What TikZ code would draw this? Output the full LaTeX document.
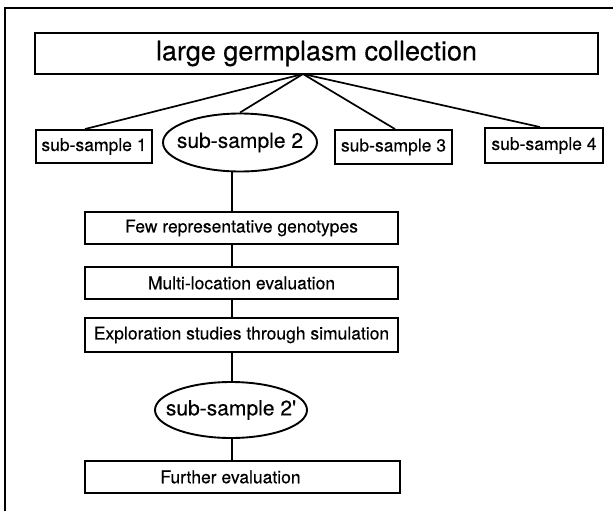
\documentclass[tikz,border=0pt]{standalone}
\usepackage{fontspec}
\setmainfont{TeX Gyre Heros}[FakeBold=0.35]
\usetikzlibrary{shapes.geometric}

\tikzset{
  boxnode/.style={draw, line width=1.9pt, rectangle, inner sep=0pt, font=\fontsize{17.5}{20}\selectfont},
  ovalnode/.style={draw, line width=1.9pt, ellipse, inner sep=0pt, font=\fontsize{21}{24}\selectfont},
  link/.style={line width=1.7pt},
  framerule/.style={line width=2.4pt}
}
% centre a label without letting it widen the ellipse around it
\newcommand{\flatlabel}[1]{\makebox[0pt]{#1}}

\begin{document}
\begin{tikzpicture}[x=1pt, y=-1pt]
  \useasboundingbox (0,0) rectangle (613,511);

  % open frame: top and left rules
  \coordinate (fTR) at (613,8);
  \coordinate (fTL) at (5,8);
  \coordinate (fBL) at (5,511);
  \draw[framerule] (fTR) -- (fTL) -- (fBL);

  % top level
  \node[boxnode, minimum width=563pt, minimum height=41pt,
        font=\fontsize{27}{30}\selectfont] (top) at (316.5,53.5) {large germplasm collection};

  % sub-samples
  \node[boxnode, minimum width=116pt, minimum height=33pt] (s1) at (94,146.5) {sub-sample 1};
  \node[ovalnode, minimum width=154pt, minimum height=58pt] (s2) at (240,142.5) {\flatlabel{sub-sample 2}};
  \node[boxnode, minimum width=117pt, minimum height=34pt] (s3) at (393.5,147) {sub-sample 3};
  \node[boxnode, minimum width=118pt, minimum height=35pt] (s4) at (544,145.5) {sub-sample 4};

  % chain below sub-sample 2
  \node[boxnode, minimum width=313pt, minimum height=32pt] (few) at (241.5,228) {Few representative genotypes};
  \node[boxnode, minimum width=313pt, minimum height=32pt] (multi) at (241.5,283) {Multi-location evaluation};
  \node[boxnode, minimum width=313pt, minimum height=34pt] (expl) at (241.5,335) {Exploration studies through simulation};
  \node[ovalnode, minimum width=152pt, minimum height=56pt] (s2p) at (231,410) {\flatlabel{sub-sample 2\textquotesingle}};
  \node[boxnode, minimum width=315pt, minimum height=32pt] (further) at (242.5,477) {\hspace*{-24pt}Further evaluation};

  % fan from the collection
  \coordinate (apex) at (303,74);
  \coordinate (spine) at (232,0);
  \draw[link] (apex) -- (s1.north -| 85,0);
  \draw[link] (apex) -- (s2.north);
  \draw[link] (apex) -- (s3.north -| 395,0);
  \draw[link] (apex) -- (s4.north -| 540,0);

  % vertical chain
  \draw[link] (s2.south -| spine) -- (few.north -| spine);
  \draw[link] (few.south -| spine) -- (multi.north -| spine);
  \draw[link] (multi.south -| spine) -- (expl.north -| spine);
  \draw[link] (expl.south -| spine) -- (s2p.north -| spine);
  \draw[link] (s2p.south -| spine) -- (further.north -| spine);
\end{tikzpicture}
\end{document}
